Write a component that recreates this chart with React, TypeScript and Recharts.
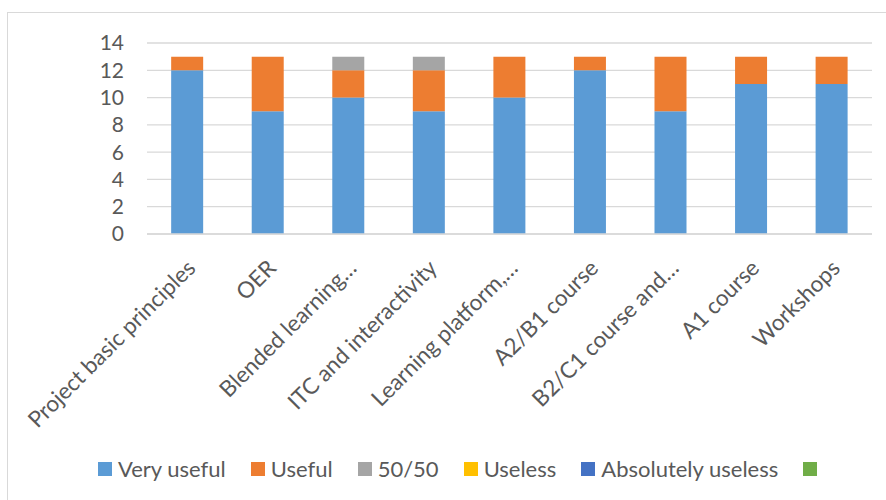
import React from "react";
import { BarChart, Bar, XAxis, YAxis, CartesianGrid, Legend } from "recharts";

const categories = [
  "Project basic principles",
  "OER",
  "Blended learning…",
  "ITC and interactivity",
  "Learning platform,…",
  "A2/B1 course",
  "B2/C1 course and…",
  "A1 course",
  "Workshops",
];
const veryUseful = [12, 9, 10, 9, 10, 12, 9, 11, 11];
const useful = [1, 4, 2, 3, 3, 1, 4, 2, 2];
const fiftyFifty = [0, 0, 1, 1, 0, 0, 0, 0, 0];
const useless = [0, 0, 0, 0, 0, 0, 0, 0, 0];
const absolutelyUseless = [0, 0, 0, 0, 0, 0, 0, 0, 0];
const extraSeries = [0, 0, 0, 0, 0, 0, 0, 0, 0];
const yTicks = [0, 2, 4, 6, 8, 10, 12, 14];

const series = [
  { key: "s1", name: "Very useful", values: veryUseful, color: "#5B9BD5" },
  { key: "s2", name: "Useful", values: useful, color: "#ED7D31" },
  { key: "s3", name: "50/50", values: fiftyFifty, color: "#A5A5A5" },
  { key: "s4", name: "Useless", values: useless, color: "#FFC000" },
  { key: "s5", name: "Absolutely useless", values: absolutelyUseless, color: "#4472C4" },
  { key: "s6", name: "", values: extraSeries, color: "#70AD47" },
];

const data = categories.map((c, i) => {
  const row: any = { name: c };
  series.forEach((s) => (row[s.key] = s.values[i]));
  return row;
});

const FONT = "Lato, 'Liberation Sans', sans-serif";
const TEXT = "#595959";

const XTick = (props: any) => {
  const { x, y, payload } = props;
  const ax = x + 4;
  const ay = y + 22;
  return (
    <text
      x={ax}
      y={ay}
      dy="0.35em"
      textAnchor="end"
      fill={TEXT}
      fontSize={22.5}
      fontFamily={FONT}
      transform={`rotate(-45, ${ax}, ${ay})`}
    >
      {payload.value}
    </text>
  );
};

const LegendContent = () => (
  <div
    style={{
      display: "flex",
      justifyContent: "flex-start",
      alignItems: "center",
      paddingLeft: 98,
      fontFamily: FONT,
      fontSize: 22,
      color: TEXT,
      height: 22,
    }}
  >
    {series.map((s) => (
      <div key={s.key} style={{ display: "flex", alignItems: "center", marginRight: 25 }}>
        <span style={{ display: "inline-block", width: 14, height: 14, background: s.color, marginRight: s.name ? 6 : 0 }} />
        <span style={{ lineHeight: "22px" }}>{s.name}</span>
      </div>
    ))}
  </div>
);

export default function App() {
  return (
    <div style={{ position: "absolute", left: 0, top: 0, width: 886, height: 500, overflow: "hidden", background: "#fff" }}>
      <div
        style={{
          position: "absolute",
          left: 7,
          top: 12,
          width: 900,
          height: 520,
          border: "1.5px solid #d9d9d9",
        }}
      />
      <div style={{ position: "absolute", left: 0, top: 0 }}>
        <BarChart
          width={886}
          height={500}
          data={data}
          margin={{ top: 43, right: 14, left: 0, bottom: 20 }}
          barCategoryGap="30%"
        >
          <CartesianGrid vertical={false} stroke="#d9d9d9" strokeWidth={1.3} />
          <XAxis
            dataKey="name"
            interval={0}
            tickLine={false}
            axisLine={{ stroke: "#d9d9d9", strokeWidth: 1.3 }}
            height={224}
            tick={<XTick />}
          />
          <YAxis
            width={147}
            domain={[0, 14]}
            ticks={yTicks}
            interval={0}
            axisLine={false}
            tickLine={false}
            tickMargin={17}
            tick={{ fill: TEXT, fontSize: 21, fontFamily: FONT }}
          />
          <Legend verticalAlign="bottom" height={22} content={<LegendContent />} />
          {series.map((s) => (
            <Bar
              key={s.key}
              dataKey={s.key}
              name={s.name}
              stackId="a"
              fill={s.color}
              isAnimationActive={false}
            />
          ))}
        </BarChart>
      </div>
    </div>
  );
}
